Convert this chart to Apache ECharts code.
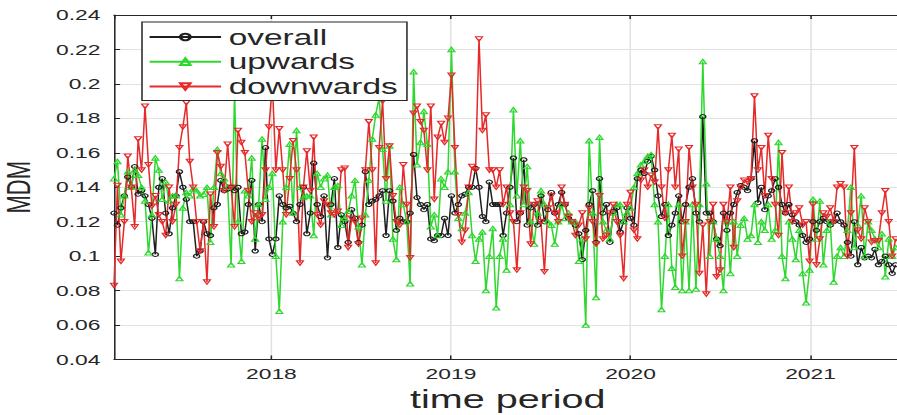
<!DOCTYPE html>
<html>
<head>
<meta charset="utf-8">
<script src="https://cdn.jsdelivr.net/npm/echarts@6/dist/echarts.min.js"></script>
<style>
  html, body { margin: 0; padding: 0; background: #fff; overflow: hidden; }
  #wrap { width: 897px; height: 415px; overflow: hidden; position: relative; }
  /* the figure is laid out at 590px and widened to 897px */
  #chart { width: 590px; height: 415px; transform: scaleX(1.5203); transform-origin: 0 0; }
</style>
</head>
<body>
<div id="wrap"><div id="chart"></div></div>
<script>
// Weekly MDM values, one entry per week starting at firstWeek
const firstWeek = new Date(2017, 1, 15).getTime();
const weekMs = 7 * 24 * 3600 * 1000;

const overall = [
  .125,.118,.128,.135,.146,.14,.152,.136,.138,.135,
  .13,.122,.101,.14,.145,.125,.113,.128,.135,.149,
  .14,.133,.12,.12,.1,.103,.12,.113,.112,.128,
  .13,.144,.138,.139,.14,.138,.14,
  .113,.114,.13,.144,.103,.13,.12,.163,.11,.101,
  .11,.135,.13,.128,.129,.125,.12,.13,.14,.113,
  .125,.154,.13,.123,.135,.099,.13,.145,.105,.124,
  .12,.108,.127,.122,.108,.118,.149,
  .13,.132,.133,.135,.138,.112,.138,.132,.115,.122,
  .12,.12,.125,.159,.134,.13,.127,.13,.11,.109,
  .112,.112,.122,.112,.135,.125,.13,.135,.136,.14,
  .14,.151,.14,.123,.12,.143,.13,.13,
  .13,.112,.125,.14,.157,.12,.125,.156,.118,.128,
  .13,.118,.135,.12,.127,.137,.125,.13,.137,.13,
  .122,.12,.118,.113,.098,.115,.13,.138,.108,.145,
  .125,.13,.108,.126,.128,.114,.12,.128,.122,.118,
  .145,.15,.148,.155,.158,.15,.135,.123,.13,.112,
  .118,.125,.135,.12,.13,.14,.145,.125,.12,.181,
  .125,.125,.12,.11,.106,.125,.115,.125,.13,.137,
  .141,.14,.138,.145,.167,.131,.14,.127,.135,.138,
  .145,.14,.13,.125,.13,.124,.12,.118,.112,.108,
  .11,.12,.115,.12,.122,.12,.118,.12,.125,.12,
  .118,.108,.1,.12,.095,.105,.099,.1,.099,.104,
  .095,.097,.1,.095,.09,.095
];

const upwards = [
  .145,.155,.124,.135,.149,.14,.15,.147,.14,.132,
  .102,.124,.157,.15,.133,.143,.132,.135,.135,.087,
  .128,.137,.135,.139,.138,.135,.136,.14,.108,.14,
  .162,.148,.145,.14,.095,.195,.12,
  .097,.138,.135,.157,.11,.13,.168,.133,.14,.148,
  .1,.068,.12,.14,.165,.125,.173,.14,.134,.135,
  .135,.112,.148,.14,.145,.147,.124,.14,.141,.118,
  .122,.126,.135,.144,.117,.095,.124,
  .144,.168,.182,.192,.162,.132,.164,.11,.098,.14,
  .13,.12,.084,.207,.153,.166,.184,.165,.117,.124,
  .112,.145,.14,.149,.22,.149,.122,.116,.125,.137,
  .112,.097,.11,.114,.08,.1,.116,.07,
  .1,.11,.092,.13,.185,.135,.167,.13,.152,.12,
  .107,.125,.138,.13,.12,.118,.107,.12,.13,.122,
  .125,.12,.12,.097,.11,.06,.167,.125,.076,.169,
  .12,.115,.11,.125,.13,.13,.12,.125,.128,.14,
  .148,.153,.155,.158,.159,.13,.12,.069,.1,.13,
  .093,.082,.13,.08,.12,.08,.13,.081,.13,.213,
  .142,.1,.12,.11,.1,.08,.12,.09,.12,.1,
  .118,.122,.11,.112,.13,.108,.12,.115,.13,.11,
  .115,.166,.1,.087,.12,.11,.098,.115,.09,.073,
  .092,.133,.11,.132,.095,.115,.12,.085,.1,.105,
  .1,.115,.14,.105,.118,.135,.1,.12,.115,.11,
  .105,.113,.088,.11,.1,.105
];

const downwards = [
  .083,.141,.097,.12,.158,.14,.117,.168,.15,.187,
  .153,.129,.135,.124,.12,.112,.14,.12,.13,.163,
  .175,.189,.155,.14,.12,.103,.12,.085,.136,.117,
  .16,.152,.138,.165,.14,.117,.173,
  .166,.16,.138,.12,.125,.122,.124,.15,.175,.2,
  .15,.174,.15,.124,.145,.167,.15,.096,.14,.161,
  .138,.169,.124,.118,.132,.13,.125,.124,.126,.15,
  .151,.105,.122,.12,.107,.122,.15,
  .178,.15,.096,.163,.19,.145,.164,.135,.12,.118,
  .153,.13,.099,.183,.187,.178,.173,.15,.187,.133,
  .169,.177,.166,.18,.205,.163,.124,.108,.115,.14,
  .152,.15,.226,.173,.182,.15,.15,.14,
  .15,.13,.14,.125,.12,.092,.125,.14,.138,.107,
  .13,.132,.12,.091,.128,.135,.125,.12,.14,.13,
  .123,.12,.112,.118,.125,.11,.128,.12,.107,.135,
  .11,.112,.125,.13,.12,.112,.087,.13,.137,.115,
  .11,.144,.15,.14,.147,.143,.175,.14,.122,.15,
  .17,.14,.162,.1,.12,.163,.14,.13,.09,.118,
  .078,.12,.13,.088,.092,.13,.12,.14,.105,.132,
  .14,.144,.143,.145,.193,.15,.163,.135,.17,.145,
  .13,.112,.16,.125,.14,.12,.125,.128,.118,.12,
  .097,.13,.095,.11,.125,.123,.128,.12,.14,.142,
  .14,.1,.125,.163,.115,.11,.128,.12,.108,.109,
  .109,.125,.138,.12,.1,.11
];

const seriesNames = ['overall', 'upwards', 'downwards'];
const yTicks = { min: 0.04, max: 0.24, step: 0.02 };

const weeks = overall.map((_, i) => firstWeek + i * weekMs);
const pairs = arr => arr.map((v, i) => [weeks[i], v]);

const font = '"Liberation Sans", Arial, Helvetica, sans-serif';
const ink = '#262626';
const gridGray = '#e2e2e2';
const yearMs = 365 * 24 * 3600 * 1000;
const xMin = new Date(2017, 1, 15).getTime();
const xMax = new Date(2021, 6, 5).getTime();

const chart = echarts.init(document.getElementById('chart'), null, { renderer: 'svg' });

function lineSeries(name, values, color, symbol, rotate, size) {
  return {
    name: name,
    type: 'line',
    data: pairs(values),
    symbol: symbol,
    symbolSize: size,
    symbolRotate: rotate,
    showSymbol: true,
    showAllSymbol: true,
    lineStyle: { color: color, width: 1 },
    itemStyle: { color: 'rgba(255,255,255,0)', borderColor: color, borderWidth: 1 },
    emphasis: { disabled: true },
    animation: false
  };
}

chart.setOption({
  animation: false,
  textStyle: { fontFamily: font },
  grid: { left: 75, right: -3, top: 15, bottom: 55.5, containLabel: false, outerBoundsMode: 'none' },
  legend: {
    data: seriesNames,
    orient: 'vertical',
    left: 93.4,
    top: 22,
    padding: [4, 6, 3, 4],
    itemWidth: 47,
    itemHeight: 8,
    itemGap: 2.7,
    backgroundColor: '#fff',
    borderColor: ink,
    borderWidth: 1,
    textStyle: { fontSize: 22, lineHeight: 22, color: ink, fontFamily: font }
  },
  xAxis: [{
    type: 'time',
    min: xMin,
    max: xMax,
    minInterval: yearMs,
    maxInterval: yearMs * 1.01,
    name: 'time period',
    nameLocation: 'middle',
    nameGap: 27,
    nameTextStyle: { fontSize: 26, color: ink, fontFamily: font },
    axisLine: { show: true, lineStyle: { color: ink, width: 1 } },
    axisTick: { show: true, inside: true, length: 4, lineStyle: { color: ink } },
    axisLabel: {
      fontSize: 15, color: ink, margin: 7, fontFamily: font,
      showMinLabel: false, showMaxLabel: false,
      formatter: value => String(new Date(value).getFullYear())
    },
    splitLine: { show: true, lineStyle: { color: gridGray, width: 1 } }
  }, {
    type: 'time',
    position: 'top',
    min: xMin,
    max: xMax,
    minInterval: yearMs,
    maxInterval: yearMs * 1.01,
    axisLine: { show: true, lineStyle: { color: ink, width: 1 } },
    axisTick: { show: true, inside: true, length: 4, lineStyle: { color: ink } },
    axisLabel: { show: false },
    splitLine: { show: false }
  }],
  yAxis: {
    type: 'value',
    min: yTicks.min,
    max: yTicks.max,
    interval: yTicks.step,
    name: 'MDM',
    nameLocation: 'middle',
    nameGap: 52,
    nameTextStyle: { fontSize: 22, color: ink, fontFamily: font },
    axisLine: { show: true, lineStyle: { color: ink, width: 1 } },
    axisTick: { show: true, inside: true, length: 4, lineStyle: { color: ink } },
    axisLabel: { fontSize: 15, color: ink, margin: 9, fontFamily: font },
    splitLine: { show: true, lineStyle: { color: gridGray, width: 1 } }
  },
  series: [
    lineSeries(seriesNames[0], overall, '#1e1e1e', 'circle', 0, 4),
    lineSeries(seriesNames[1], upwards, '#2ed82e', 'triangle', 0, [4.5, 4.5]),
    lineSeries(seriesNames[2], downwards, '#e62a2a', 'triangle', 180, [4.5, 4.5])
  ]
});
</script>
</body>
</html>
